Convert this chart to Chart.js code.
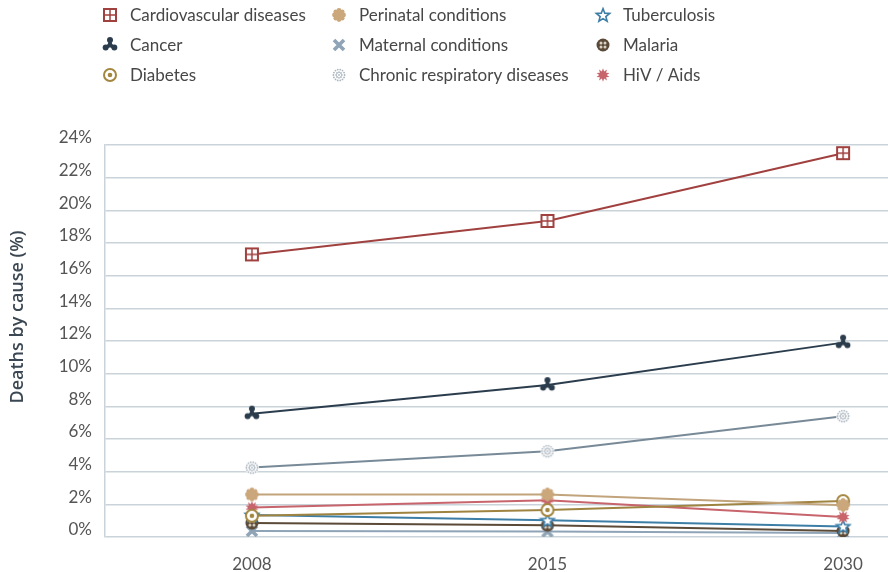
<!DOCTYPE html>
<html lang="en">
<head>
    <meta charset="UTF-8">
    <title>Deaths by cause</title>
    <script src="https://cdn.jsdelivr.net/npm/chart.js"></script>
    <style>
        html, body { margin: 0; padding: 0; background: #fff; overflow: hidden; }
        #wrap { width: 888px; height: 572px; }
    </style>
</head>
<body>
    <div id="wrap"><canvas id="deathsChart" width="888" height="572"></canvas></div>

    <script>
        // Data
        const years = ['2008', '2015', '2030'];
        const yTicks = [0, 2, 4, 6, 8, 10, 12, 14, 16, 18, 20, 22, 24];

        const cardiovascular = [17.3, 19.35, 23.5];
        const cancer = [7.55, 9.3, 11.9];
        const diabetes = [1.3, 1.65, 2.2];
        const perinatal = [2.6, 2.6, 1.95];
        const maternal = [0.37, 0.33, 0.25];
        const chronicResp = [4.25, 5.25, 7.4];
        const tuberculosis = [1.35, 1.02, 0.65];
        const malaria = [0.85, 0.72, 0.37];
        const hivAids = [1.8, 2.25, 1.22];

        // marker icons drawn on small canvases
        function icon(draw) {
            const c = document.createElement('canvas');
            c.width = 18; c.height = 18;
            const g = c.getContext('2d');
            g.translate(9, 9);
            draw(g);
            return c;
        }

        function burst(g, n, outer, inner) {
            g.beginPath();
            for (let i = 0; i < n * 2; i++) {
                const r = -Math.PI / 2 + i * Math.PI / n;
                const len = i % 2 === 0 ? outer : inner;
                g.lineTo(Math.cos(r) * len, Math.sin(r) * len);
            }
            g.closePath();
        }

        const icons = {
            cardio: icon(g => {
                g.fillStyle = '#fff';
                g.fillRect(-6, -6, 12, 12);
                g.strokeStyle = '#a0413f';
                g.lineWidth = 2;
                g.strokeRect(-6, -6, 12, 12);
                g.lineWidth = 1.5;
                g.beginPath();
                g.moveTo(0, -6); g.lineTo(0, 6);
                g.moveTo(-6, 0); g.lineTo(6, 0);
                g.stroke();
            }),
            cancer: icon(g => {
                g.fillStyle = '#2b3d4d';
                g.strokeStyle = '#2b3d4d';
                g.lineWidth = 3.5;
                g.lineCap = 'round';
                [-90, 30, 150].forEach(a => {
                    const r = a * Math.PI / 180;
                    g.beginPath();
                    g.moveTo(0, 0);
                    g.lineTo(Math.cos(r) * 4, Math.sin(r) * 4);
                    g.stroke();
                    g.beginPath();
                    g.arc(Math.cos(r) * 5, Math.sin(r) * 5, 3, 0, Math.PI * 2);
                    g.fill();
                });
                g.beginPath(); g.arc(0, 0, 2.5, 0, Math.PI * 2); g.fill();
            }),
            diabetes: icon(g => {
                g.fillStyle = '#fff';
                g.strokeStyle = '#a3863f';
                g.lineWidth = 2;
                g.beginPath(); g.arc(0, 0, 6, 0, Math.PI * 2); g.fill(); g.stroke();
                g.fillStyle = '#a3863f';
                g.beginPath(); g.arc(0, 0, 2.3, 0, Math.PI * 2); g.fill();
            }),
            perinatal: icon(g => {
                g.fillStyle = '#cba77c';
                for (let i = 0; i < 8; i++) {
                    const r = i * Math.PI / 4;
                    g.beginPath();
                    g.arc(Math.cos(r) * 4.5, Math.sin(r) * 4.5, 2.4, 0, Math.PI * 2);
                    g.fill();
                }
                g.beginPath(); g.arc(0, 0, 4.6, 0, Math.PI * 2); g.fill();
            }),
            maternal: icon(g => {
                g.strokeStyle = '#8fa4b6';
                g.lineWidth = 3.6;
                g.beginPath();
                g.moveTo(-5, -5); g.lineTo(5, 5);
                g.moveTo(5, -5); g.lineTo(-5, 5);
                g.stroke();
            }),
            chronic: icon(g => {
                g.fillStyle = '#fff';
                g.beginPath(); g.arc(0, 0, 7, 0, Math.PI * 2); g.fill();
                g.fillStyle = '#aab5bf';
                [[0, 1], [2.8, 8], [5.6, 14]].forEach(([rad, n]) => {
                    for (let i = 0; i < n; i++) {
                        const r = i * 2 * Math.PI / n;
                        g.beginPath();
                        g.arc(Math.cos(r) * rad, Math.sin(r) * rad, 0.9, 0, Math.PI * 2);
                        g.fill();
                    }
                });
            }),
            tuberculosis: icon(g => {
                g.fillStyle = '#fff';
                g.strokeStyle = '#3d7ea7';
                g.lineWidth = 1.6;
                g.translate(0, 0.6);
                burst(g, 5, 7, 3);
                g.fill(); g.stroke();
            }),
            malaria: icon(g => {
                g.fillStyle = '#5b4a37';
                g.beginPath(); g.arc(0, 0, 6.5, 0, Math.PI * 2); g.fill();
                g.fillStyle = '#d9d2c6';
                [45, 135, 225, 315].forEach(a => {
                    const r = a * Math.PI / 180;
                    g.beginPath();
                    g.arc(Math.cos(r) * 2.8, Math.sin(r) * 2.8, 1.5, 0, Math.PI * 2);
                    g.fill();
                });
            }),
            hiv: icon(g => {
                g.fillStyle = '#c7646c';
                burst(g, 10, 6.8, 3.8);
                g.fill();
            })
        };

        function series(label, values, color, marker, col, row) {
            return {
                label: label,
                data: values.map((v, i) => ({ x: i, y: v })),
                borderColor: color,
                backgroundColor: color,
                borderWidth: 2,
                pointStyle: marker,
                pointRadius: 7,
                tension: 0,
                legendCol: col,
                legendRow: row
            };
        }

        const datasets = [
            series('Cardiovascular diseases', cardiovascular, '#a0413f', icons.cardio, 0, 0),
            series('Cancer', cancer, '#2b3d4d', icons.cancer, 0, 1),
            series('Chronic respiratory diseases', chronicResp, '#788a98', icons.chronic, 1, 2),
            series('Perinatal conditions', perinatal, '#c2a47c', icons.perinatal, 1, 0),
            series('Diabetes', diabetes, '#9f8340', icons.diabetes, 0, 2),
            series('HiV / Aids', hivAids, '#c7646c', icons.hiv, 2, 2),
            series('Tuberculosis', tuberculosis, '#3d7ea7', icons.tuberculosis, 2, 0),
            series('Malaria', malaria, '#5b4a37', icons.malaria, 2, 1),
            series('Maternal conditions', maternal, '#8fa4b6', icons.maternal, 1, 1)
        ];

        // legend in three columns and the axis title, drawn like the original
        const gridLegend = {
            id: 'gridLegend',
            afterDraw(chart) {
                const ctx = chart.ctx;
                const colX = [110, 339, 603];
                const rowY = [15, 45, 75];
                ctx.save();
                ctx.font = '17px Lato';
                ctx.fillStyle = '#474747';
                ctx.textBaseline = 'middle';
                chart.data.datasets.forEach(ds => {
                    const x = colX[ds.legendCol];
                    const y = rowY[ds.legendRow];
                    ctx.drawImage(ds.pointStyle, x - 9, y - 9);
                    ctx.fillText(ds.label, x + 20, y + 1);
                });

                ctx.translate(18, 317);
                ctx.rotate(-Math.PI / 2);
                ctx.textAlign = 'center';
                ctx.font = '600 18px "Open Sans"';
                ctx.fillStyle = '#3b4752';
                ctx.fillText('Deaths by cause (%)', 0, 0);
                ctx.restore();
            }
        };

        const gridColor = '#c9d3d9';

        new Chart(document.getElementById('deathsChart').getContext('2d'), {
            type: 'line',
            data: { datasets: datasets },
            plugins: [gridLegend],
            options: {
                responsive: false,
                devicePixelRatio: 1,
                animation: false,
                layout: { autoPadding: false, padding: { top: 145, left: 0, right: 0, bottom: 0 } },
                plugins: {
                    legend: { display: false },
                    tooltip: { enabled: false }
                },
                scales: {
                    x: {
                        type: 'linear',
                        min: -0.497,
                        max: 2.152,
                        afterBuildTicks: s => { s.ticks = years.map((y, i) => ({ value: i })); },
                        afterFit: s => { s.height = 35; s.paddingLeft = 0; s.paddingRight = 0; },
                        grid: { display: false },
                        border: { display: false },
                        ticks: {
                            callback: v => years[v],
                            color: '#555',
                            font: { family: 'Lato', size: 17 },
                            padding: 9,
                            maxRotation: 0
                        }
                    },
                    y: {
                        min: 0,
                        max: 24,
                        afterBuildTicks: s => { s.ticks = yTicks.map(v => ({ value: v })); },
                        afterFit: s => { s.width = 105; },
                        grid: { color: gridColor, lineWidth: 1.5, drawTicks: false },
                        border: { display: true, color: gridColor, width: 1.5 },
                        ticks: {
                            callback: v => v + '%',
                            color: '#555',
                            font: { family: 'Lato', size: 17 },
                            padding: 13,
                            labelOffset: -7
                        }
                    }
                }
            }
        });
    </script>
</body>
</html>
